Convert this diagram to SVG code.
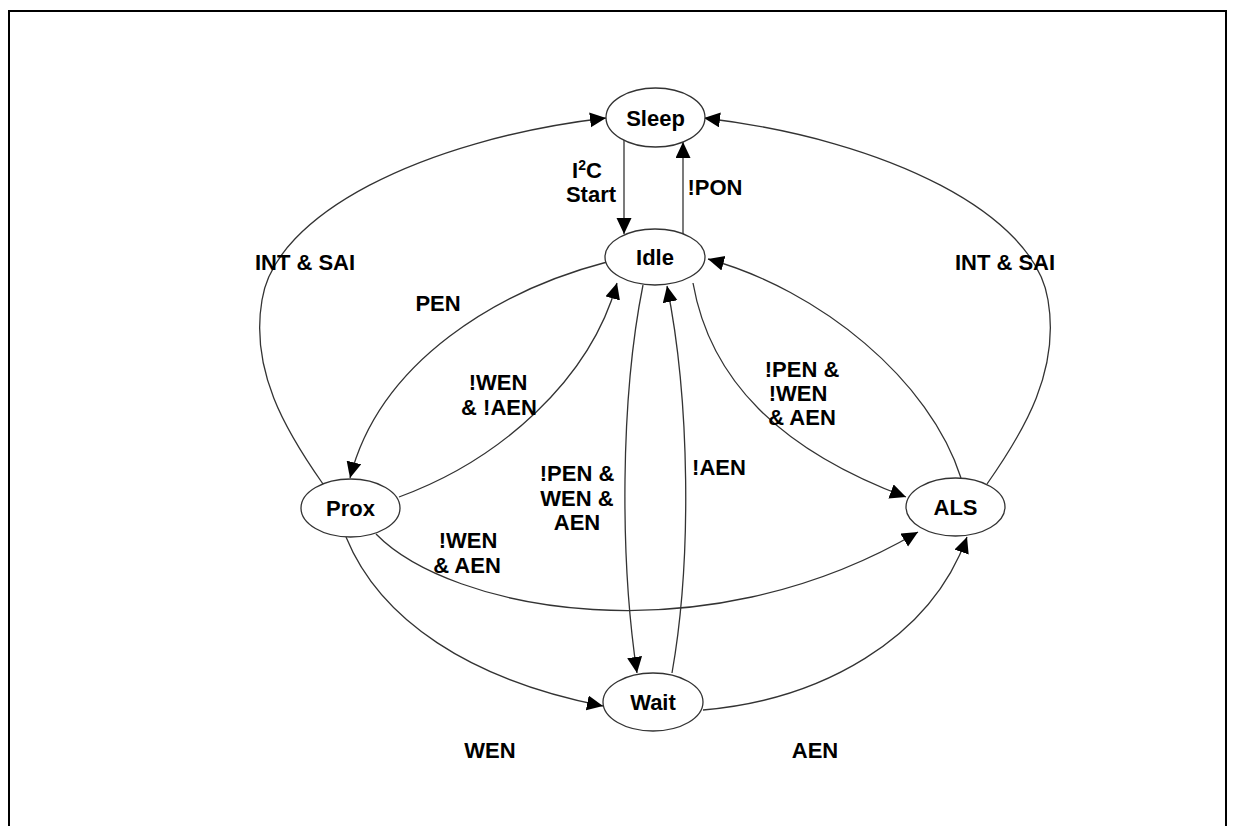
<svg xmlns="http://www.w3.org/2000/svg" width="1236" height="826" viewBox="0 0 1236 826">
<style>
.node ellipse{fill:#fff;stroke:#333;stroke-width:1.3}
.node text,.lbl{font-family:"Liberation Sans",Arial,sans-serif;font-weight:bold;font-size:22px;fill:#000;text-anchor:middle}
.edge{fill:none;stroke:#333;stroke-width:1.3;marker-end:url(#ah)}
</style>
<defs>
<marker id="ah" markerUnits="userSpaceOnUse" markerWidth="18" markerHeight="16" refX="16" refY="7.5" orient="auto">
<path d="M0,0 L16,7.5 L0,15 z" fill="#000"/>
</marker>
</defs>
<rect x="0" y="0" width="1236" height="826" fill="#fff"/>
<path d="M9,830 V11 H1226 V830" fill="none" stroke="#000" stroke-width="2"/>
<g id="connectors">
<path class="edge" d="M624,140 L624,234"/>
<path class="edge" d="M683,234 L683,142"/>
<path class="edge" d="M323,484 C285,430 250,370 262,300 C275,215 420,140 606,118"/>
<path class="edge" d="M987,484 C1025,430 1060,370 1048,300 C1035,215 890,140 704,118"/>
<path class="edge" d="M607,262 C500,290 380,360 350,478"/>
<path class="edge" d="M399,497 C500,460 590,380 617,283"/>
<path class="edge" d="M643,285 C620,400 620,560 637,673"/>
<path class="edge" d="M672,673 C692,560 690,400 667,286"/>
<path class="edge" d="M693,283 C710,380 780,450 906,497"/>
<path class="edge" d="M961,478 C930,380 820,290 708,259"/>
<path class="edge" d="M376,534 C450,610 700,660 918,532"/>
<path class="edge" d="M346,537 C380,620 470,680 603,706"/>
<path class="edge" d="M703,710 C820,700 930,640 967,537"/>
</g>
<g id="labels">
<text class="lbl" x="587" y="178">I<tspan font-size="14" dy="-8">2</tspan><tspan dy="8">C</tspan></text>
<text class="lbl" x="591" y="202">Start</text>
<text class="lbl" x="715" y="195">!PON</text>
<text class="lbl" x="305" y="270">INT &amp; SAI</text>
<text class="lbl" x="1005" y="270">INT &amp; SAI</text>
<text class="lbl" x="438" y="311">PEN</text>
<text class="lbl" x="498" y="390">!WEN</text>
<text class="lbl" x="499" y="415">&amp; !AEN</text>
<text class="lbl" x="577" y="481">!PEN &amp;</text>
<text class="lbl" x="577" y="506">WEN &amp;</text>
<text class="lbl" x="577" y="530">AEN</text>
<text class="lbl" x="719" y="475">!AEN</text>
<text class="lbl" x="802" y="377">!PEN &amp;</text>
<text class="lbl" x="798" y="401">!WEN</text>
<text class="lbl" x="802" y="425">&amp; AEN</text>
<text class="lbl" x="468" y="548">!WEN</text>
<text class="lbl" x="467" y="573">&amp; AEN</text>
<text class="lbl" x="490" y="758">WEN</text>
<text class="lbl" x="815" y="758">AEN</text>
</g>
<g id="node-sleep" class="node"><ellipse cx="655.5" cy="117.5" rx="49.5" ry="29.5"/><text x="655.5" y="126">Sleep</text></g>
<g id="node-idle" class="node"><ellipse cx="655" cy="257" rx="50" ry="28"/><text x="655" y="265">Idle</text></g>
<g id="node-prox" class="node"><ellipse cx="350.5" cy="508" rx="49.5" ry="29"/><text x="350.5" y="516">Prox</text></g>
<g id="node-als" class="node"><ellipse cx="955.5" cy="507" rx="49.5" ry="29"/><text x="955.5" y="515">ALS</text></g>
<g id="node-wait" class="node"><ellipse cx="653" cy="702" rx="50" ry="29"/><text x="653" y="710">Wait</text></g>
</svg>
